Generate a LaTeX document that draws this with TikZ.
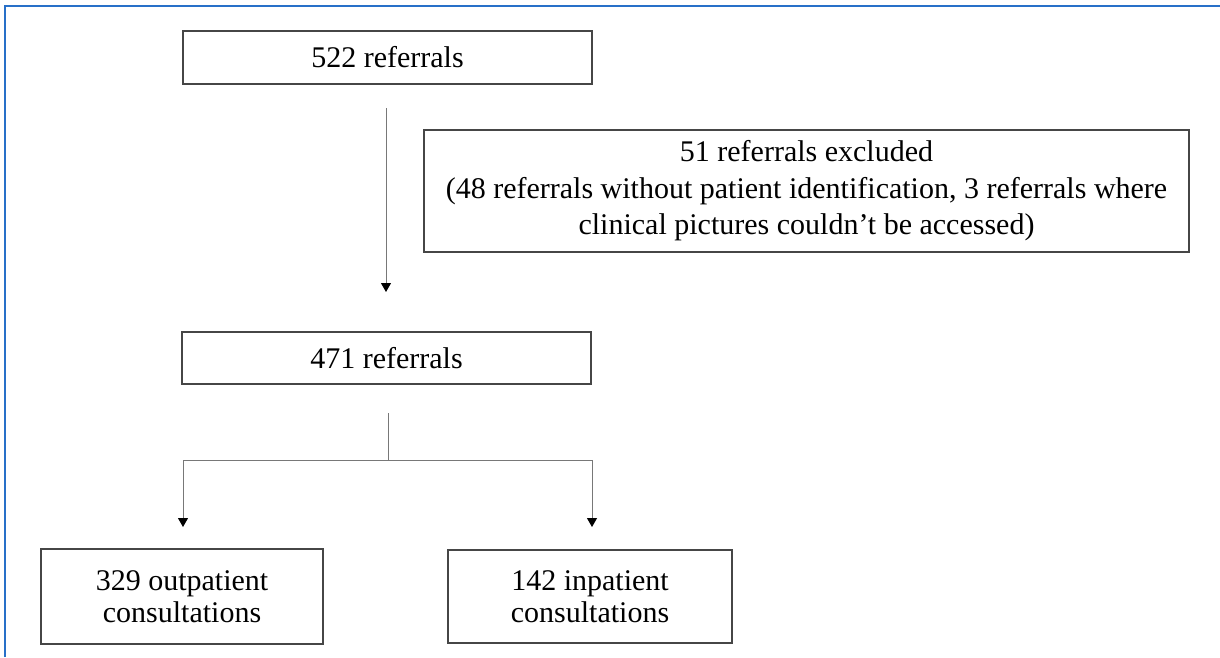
\documentclass[tikz,border=0pt]{standalone}
\usepackage{fontspec}
\setmainfont{Liberation Serif}
\usetikzlibrary{arrows.meta}
\definecolor{framblue}{RGB}{40,112,200}
\definecolor{boxgray}{RGB}{70,70,70}
\definecolor{linegray}{RGB}{120,120,120}
\begin{document}
\begin{tikzpicture}[x=1pt,y=-1pt,
  box/.style={draw=boxgray, line width=1.3pt, rectangle, inner sep=0pt, align=center,
    font=\fontsize{30}{36.5}\selectfont},
  lowbox/.style={box, font=\fontsize{30}{32}\selectfont},
  conn/.style={draw=linegray, line width=1pt},
  arr/.style={conn, -{Triangle[length=9pt,width=10pt,color=black]}}]
\useasboundingbox (0,0) rectangle (1220,657);
\fill[white] (0,0) rectangle (1220,657);
% frame (top and left edges)
\draw[framblue, line width=2pt] (5,657) -- (5,6) -- (1220,6);
% nodes
\node[box, minimum width=409pt, minimum height=53pt] (n522) at (387.5,57.5) {522 referrals};
\node[box, minimum width=765pt, minimum height=122pt] (excl) at (806.5,191)
  {51 referrals excluded\\(48 referrals without patient identification, 3 referrals where\\clinical pictures couldn’t be accessed)};
\node[box, minimum width=409pt, minimum height=52pt] (n471) at (386.5,358) {471 referrals};
\node[lowbox, minimum width=282pt, minimum height=95pt] (outp) at (182,596.5) {329 outpatient\\consultations};
\node[lowbox, minimum width=284pt, minimum height=93pt] (inp) at (590,596.5) {142 inpatient\\consultations};
% connectors
\coordinate (a1s) at (386,108);
\coordinate (a1e) at (386,292);
\draw[arr] (a1s) -- (a1e);
\coordinate (b0) at (388,413);
\coordinate (bj) at (388,460);
\coordinate (bl) at (183,460);
\coordinate (br) at (592,460);
\coordinate (blt) at (183,527);
\coordinate (brt) at (592,527);
\draw[conn] (b0) -- (bj);
\draw[conn] (bl) -- (br);
\draw[arr] (bl) -- (blt);
\draw[arr] (br) -- (brt);
\end{tikzpicture}
\end{document}
